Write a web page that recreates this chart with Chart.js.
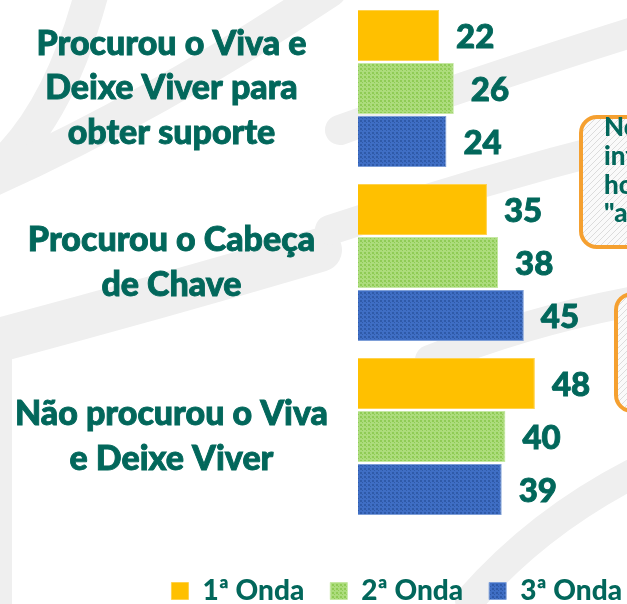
<!DOCTYPE html>
<html>
<head>
<meta charset="utf-8">
<script src="https://cdn.jsdelivr.net/npm/chart.js@4.4.0/dist/chart.umd.min.js"></script>
<style>
  html, body { margin: 0; padding: 0; background: #fff; }
  #wrap { width: 627px; height: 604px; position: relative; }
</style>
</head>
<body>
<div id="wrap"><canvas id="canvas"></canvas></div>
<script>
const categories = [
  ['Procurou o Viva e', 'Deixe Viver para', 'obter suporte'],
  ['Procurou o Cabeça', 'de Chave'],
  ['Não procurou o Viva', 'e Deixe Viver']
];
const seriesNames = ['1ª Onda', '2ª Onda', '3ª Onda'];
const onda1 = [22, 35, 48];
const onda2 = [26, 38, 40];
const onda3 = [24, 45, 39];

const teal = '#02675b';

// dotted fills like the office "small confetti" pattern
function dots(base, dot) {
  const c = document.createElement('canvas');
  c.width = 4; c.height = 4;
  const g = c.getContext('2d');
  g.fillStyle = base; g.fillRect(0, 0, 4, 4);
  g.fillStyle = dot;
  g.fillRect(0, 0, 2, 2);
  g.fillRect(2, 2, 1, 1);
  return g.createPattern(c, 'repeat');
}
function hatch() {
  const c = document.createElement('canvas');
  c.width = 6; c.height = 6;
  const g = c.getContext('2d');
  g.fillStyle = '#fafafa'; g.fillRect(0, 0, 6, 6);
  g.strokeStyle = '#dcdcdc'; g.lineWidth = 1;
  g.beginPath(); g.moveTo(0, 6); g.lineTo(6, 0); g.stroke();
  return g.createPattern(c, 'repeat');
}
const greenFill = dots('#acdc7c', '#8fcb55');
const blueFill = dots('#3f6ec4', '#2f5aa8');

// faint watermark and the clipped callout boxes on the right
const backdrop = {
  id: 'backdrop',
  beforeDraw(chart) {
    const ctx = chart.ctx;
    ctx.save();
    ctx.strokeStyle = '#efefef';
    ctx.lineCap = 'round';
    ctx.lineWidth = 34;
    ctx.beginPath(); ctx.moveTo(95, -20); ctx.quadraticCurveTo(60, 120, -10, 175); ctx.stroke();
    ctx.beginPath(); ctx.moveTo(-20, 185); ctx.quadraticCurveTo(150, 110, 330, -10); ctx.stroke();
    ctx.lineWidth = 44;
    ctx.beginPath(); ctx.moveTo(-20, 345); ctx.quadraticCurveTo(150, 300, 320, 250); ctx.stroke();
    ctx.lineWidth = 16;
    ctx.beginPath(); ctx.moveTo(4, 330); ctx.lineTo(4, 620); ctx.stroke();
    ctx.lineWidth = 30;
    ctx.beginPath(); ctx.moveTo(340, 130); ctx.quadraticCurveTo(480, 80, 640, 30); ctx.stroke();
    ctx.beginPath(); ctx.moveTo(330, 230); ctx.quadraticCurveTo(480, 180, 640, 140); ctx.stroke();
    ctx.beginPath(); ctx.moveTo(430, 360); ctx.quadraticCurveTo(530, 320, 640, 300); ctx.stroke();
    ctx.beginPath(); ctx.moveTo(470, 600); ctx.quadraticCurveTo(540, 520, 640, 470); ctx.stroke();
    ctx.restore();
  },
  afterDraw(chart) {
    const ctx = chart.ctx;
    ctx.save();
    ctx.lineWidth = 4;
    ctx.strokeStyle = '#f5a030';
    ctx.fillStyle = hatch();
    ctx.beginPath(); ctx.roundRect(581, 117, 90, 130, 16); ctx.fill(); ctx.stroke();
    ctx.beginPath(); ctx.roundRect(616, 294, 60, 117, 16); ctx.fill(); ctx.stroke();
    ctx.fillStyle = teal;
    ctx.font = '900 26px Lato';
    ctx.textBaseline = 'middle';
    ctx.fillText('No', 604, 128);
    ctx.fillText('inf', 604, 157);
    ctx.fillText('ho', 604, 186);
    ctx.fillText('"a', 604, 214);
    ctx.restore();
  }
};

const valueLabels = {
  id: 'valueLabels',
  afterDatasetsDraw(chart) {
    const ctx = chart.ctx;
    ctx.save();
    ctx.font = '900 33px Lato';
    ctx.fillStyle = teal;
    ctx.strokeStyle = teal;
    ctx.lineWidth = 0.9;
    ctx.textAlign = 'left';
    ctx.textBaseline = 'middle';
    chart.data.datasets.forEach((ds, i) => {
      chart.getDatasetMeta(i).data.forEach((bar, j) => {
        ctx.fillText(ds.data[j], bar.x + 17, bar.y + 2);
        ctx.strokeText(ds.data[j], bar.x + 17, bar.y + 2);
      });
    });
    ctx.restore();
  }
};

const data = {
  labels: categories,
  datasets: [
    { label: seriesNames[0], data: onda1, backgroundColor: '#ffc000', borderColor: '#ffd24d', borderWidth: 1 },
    { label: seriesNames[1], data: onda2, backgroundColor: greenFill, borderColor: '#c6e8a4', borderWidth: 1 },
    { label: seriesNames[2], data: onda3, backgroundColor: blueFill, borderColor: '#7e9fd8', borderWidth: 1 }
  ]
};

const config = {
  type: 'bar',
  data: data,
  options: {
    indexAxis: 'y',
    responsive: true,
    maintainAspectRatio: false,
    animation: false,
    categoryPercentage: 0.914,
    barPercentage: 0.96,
    layout: { autoPadding: false, padding: { top: 1.5, left: 0, right: -21, bottom: -11 } },
    plugins: {
      tooltip: { enabled: false },
      legend: {
        position: 'bottom',
        align: 'end',
        labels: {
          color: teal,
          font: { family: 'Lato', weight: '900', size: 28, lineHeight: 1 },
          boxWidth: 17,
          boxHeight: 17,
          padding: 26
        }
      }
    },
    scales: {
      x: {
        min: 0,
        max: 73,
        display: true,
        grid: { display: false },
        border: { display: false },
        ticks: { display: false },
        afterFit(scale) {
          scale.height = 27.5;
          scale.paddingLeft = 0; scale.paddingRight = 0;
        }
      },
      y: {
        grid: { display: false },
        border: { display: false },
        ticks: {
          color: teal,
          crossAlign: 'center',
          padding: 22,
          textStrokeColor: teal,
          textStrokeWidth: 0.9,
          font: { family: 'Lato', weight: '900', size: 34, lineHeight: 1.31 }
        },
        afterFit(scale) {
          scale.width = 358;
          scale.paddingTop = 0; scale.paddingBottom = 0;
        }
      }
    }
  },
  plugins: [backdrop, valueLabels]
};

const chart = new Chart(document.getElementById('canvas'), config);
</script>
</body>
</html>
